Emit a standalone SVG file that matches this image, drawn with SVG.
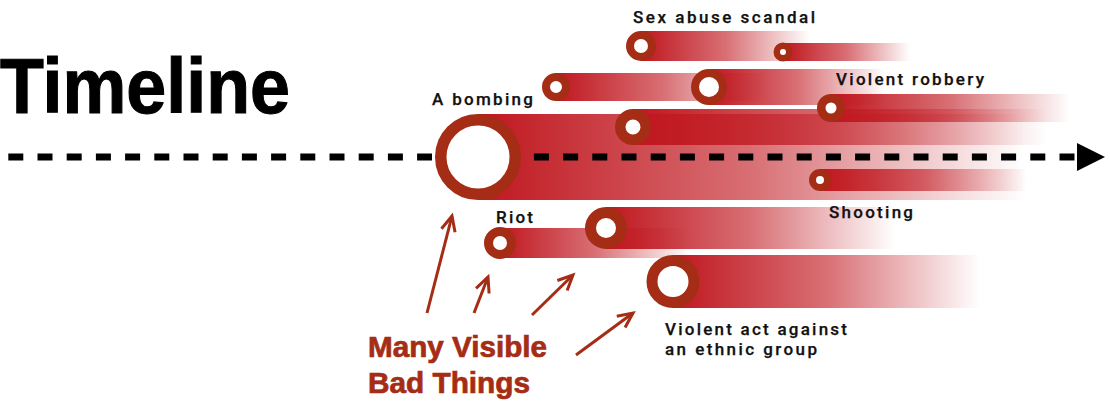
<svg xmlns="http://www.w3.org/2000/svg" width="1110" height="406" viewBox="0 0 1110 406">
<defs>
<linearGradient id="tail" x1="0" y1="0" x2="1" y2="0">
<stop offset="0" stop-color="#c0171f" stop-opacity="1"/>
<stop offset="0.5" stop-color="#c0171f" stop-opacity="0.62"/>
<stop offset="1" stop-color="#c0171f" stop-opacity="0"/>
</linearGradient>
<marker id="chev" markerUnits="userSpaceOnUse" markerWidth="24" markerHeight="24" viewBox="-18 -12 24 24" refX="0" refY="0" orient="auto" overflow="visible">
<path d="M-15,-7 L0,0 L-15,7" fill="none" stroke="#a52d15" stroke-width="3" stroke-linejoin="miter"/>
</marker>
<style>
.tail{fill:url(#tail)}
.ring{fill:#fff;stroke:#a52d15}
.lbl{font-family:Roboto,"Liberation Sans",sans-serif;font-weight:500;font-size:17px;fill:#111;stroke:#111;stroke-width:0.25px}
.big{font-family:"Liberation Sans",Arial,sans-serif;font-weight:bold;font-size:29px;fill:#a52d15;stroke:#a52d15;stroke-width:0.7px}
.arrow{fill:none;stroke:#a52d15;stroke-width:3;marker-end:url(#chev)}
</style>
</defs>
<rect width="1110" height="406" fill="#fff"/>
<text x="0" y="113" font-family="Liberation Sans, Arial, sans-serif" font-weight="bold" font-size="77" fill="#000" stroke="#000" stroke-width="1.1" textLength="290" lengthAdjust="spacingAndGlyphs">Timeline</text>

<g id="bombing">
<rect class="tail" x="478" y="114" width="547" height="86"/>
<circle class="ring" cx="478" cy="157" r="37.25" stroke-width="11.5"/>
<text class="lbl" x="432" y="105" textLength="101" lengthAdjust="spacing">A bombing</text>
</g>
<g id="riot">
<rect class="tail" x="500" y="228" width="190" height="30"/>
<circle class="ring" cx="500" cy="243" r="11.5" stroke-width="9"/>
<text class="lbl" x="496" y="223" textLength="37" lengthAdjust="spacing">Riot</text>
</g>
<g id="event-a">
<rect class="tail" x="556" y="73" width="214" height="28"/>
<circle class="ring" cx="556" cy="87" r="10" stroke-width="8"/>
</g>
<g id="event-b">
<rect class="tail" x="606" y="207" width="289" height="42"/>
<circle class="ring" cx="606" cy="228" r="15.5" stroke-width="11"/>
</g>
<g id="event-c">
<rect class="tail" x="633" y="109" width="414" height="36"/>
<circle class="ring" cx="633" cy="127" r="12.75" stroke-width="10.5"/>
</g>
<g id="sex-abuse">
<rect class="tail" x="641" y="31" width="169" height="30"/>
<circle class="ring" cx="641" cy="46" r="11" stroke-width="8"/>
<text class="lbl" x="633" y="23" textLength="182" lengthAdjust="spacing">Sex abuse scandal</text>
</g>
<g id="ethnic-violence">
<rect class="tail" x="673" y="255" width="307" height="53"/>
<circle class="ring" cx="673" cy="281.5" r="21" stroke-width="11"/>
<text class="lbl" x="665" y="335" textLength="182" lengthAdjust="spacing">Violent act against</text>
<text class="lbl" x="665" y="355" textLength="152" lengthAdjust="spacing">an ethnic group</text>
</g>
<g id="event-d">
<rect class="tail" x="709" y="69" width="176" height="36"/>
<circle class="ring" cx="709" cy="87" r="14" stroke-width="8"/>
</g>
<g id="event-e">
<rect class="tail" x="783" y="43" width="127" height="18"/>
<circle class="ring" cx="783" cy="52" r="6.25" stroke-width="6.5"/>
</g>
<g id="shooting">
<rect class="tail" x="820" y="169" width="207" height="22"/>
<circle class="ring" cx="820" cy="180" r="7.5" stroke-width="7"/>
<text class="lbl" x="829" y="218" textLength="84" lengthAdjust="spacing">Shooting</text>
</g>
<g id="robbery">
<rect class="tail" x="831" y="94" width="239" height="28"/>
<circle class="ring" cx="831" cy="108" r="9.75" stroke-width="8.5"/>
<text class="lbl" x="836" y="85" textLength="148" lengthAdjust="spacing">Violent robbery</text>
</g>

<g id="connectors">
<path d="M8.3,157 H432 M533.9,157 H1075" fill="none" stroke="#000" stroke-width="7" stroke-dasharray="15 14.2"/>
<polygon points="1077,143 1105,157 1077,171" fill="#000"/>
<line class="arrow" x1="427" y1="313" x2="452" y2="216"/>
<line class="arrow" x1="474" y1="313" x2="488" y2="277"/>
<line class="arrow" x1="532" y1="315" x2="573" y2="275"/>
<line class="arrow" x1="576" y1="355" x2="633" y2="313"/>
</g>

<g id="caption">
<text class="big" x="368" y="357" textLength="179" lengthAdjust="spacingAndGlyphs">Many Visible</text>
<text class="big" x="368" y="393" textLength="162" lengthAdjust="spacingAndGlyphs">Bad Things</text>
</g>
</svg>
